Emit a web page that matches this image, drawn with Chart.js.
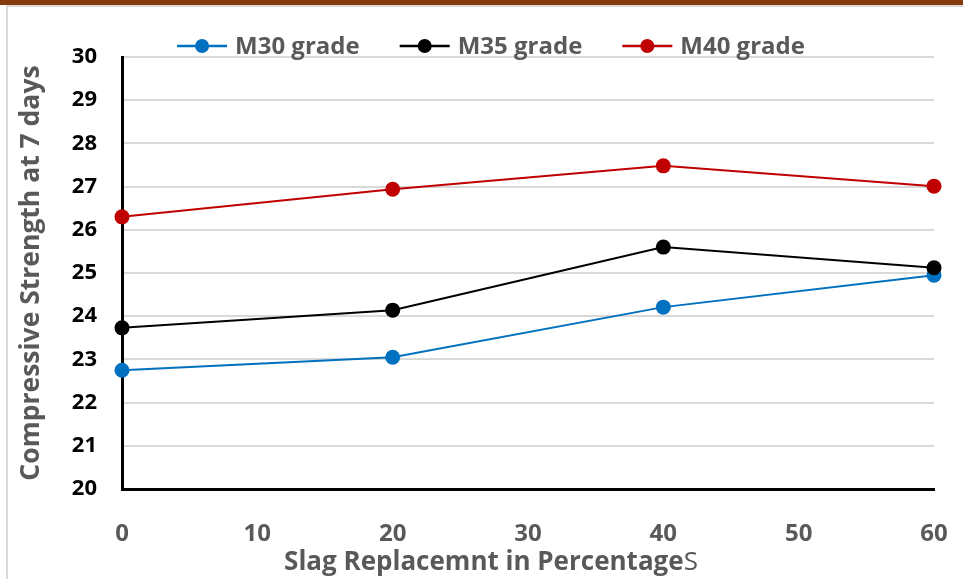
<!DOCTYPE html>
<html lang="en">
<head>
<meta charset="UTF-8">
<title>Compressive Strength at 7 days</title>
<script src="https://cdn.jsdelivr.net/npm/chart.js"></script>
<style>
    body { margin: 0; background: #ffffff; }
    .wrap { position: relative; width: 963px; height: 579px; overflow: hidden; background: #ffffff; }
    .topbar { position: absolute; left: 0; top: 0; width: 963px; height: 5px; background: #843c0c; }
    .frame { position: absolute; left: 6px; top: 5px; width: 1000px; height: 700px; border: 2px solid #d9d9d9; box-sizing: border-box; }
    canvas { position: absolute; left: 0; top: 0; }
</style>
</head>
<body>
<div class="wrap">
    <div class="topbar"></div>
    <div class="frame"></div>
    <canvas id="grafico" width="963" height="579"></canvas>
</div>
<script>
// datos
const slagPercent = [0, 20, 40, 60];
const m30 = [22.75, 23.05, 24.21, 24.95];
const m35 = [23.73, 24.14, 25.60, 25.12];
const m40 = [26.30, 26.94, 27.48, 27.01];
const seriesNames = ['M30 grade', 'M35 grade', 'M40 grade'];
const seriesColors = ['#0070c0', '#000000', '#c00000'];
const yMin = 20, yMax = 30, yStep = 1;
const xMin = 0, xMax = 60, xStep = 10;

const FONT = '"Open Sans", Lato, sans-serif';
const GRAY = '#595959';

function puntos(vals) {
    return slagPercent.map((x, i) => ({ x: x, y: vals[i] }));
}

// leyenda dibujada a mano (linea + punto + texto)
const leyenda = {
    id: 'leyenda',
    afterDraw(chart) {
        const ctx = chart.ctx;
        ctx.save();
        ctx.font = 'bold 24px ' + FONT;
        ctx.textBaseline = 'middle';
        const lineW = 50, gapText = 8, gapItem = 40, cy = 46;
        const items = chart.data.datasets.map(ds => ({ text: ds.label, color: ds.borderColor, w: ctx.measureText(ds.label).width }));
        let total = 0;
        items.forEach((it, i) => { total += lineW + gapText + it.w + (i ? gapItem : 0); });
        let x = 491 - total / 2;
        items.forEach(it => {
            ctx.strokeStyle = it.color;
            ctx.lineWidth = 2.5;
            ctx.beginPath();
            ctx.moveTo(x, cy);
            ctx.lineTo(x + lineW, cy);
            ctx.stroke();
            ctx.fillStyle = it.color;
            ctx.beginPath();
            ctx.arc(x + lineW / 2, cy, 7, 0, Math.PI * 2);
            ctx.fill();
            ctx.fillStyle = GRAY;
            ctx.fillText(it.text, x + lineW + gapText, cy + 1);
            x += lineW + gapText + it.w + gapItem;
        });
        ctx.restore();
    }
};

// titulo del eje x (la ultima S no va en negrita)
const tituloX = {
    id: 'tituloX',
    afterDraw(chart) {
        const ctx = chart.ctx;
        ctx.save();
        const a = 'Slag Replacemnt in Percentage', b = 'S';
        ctx.font = 'bold 26px ' + FONT;
        const wa = ctx.measureText(a).width;
        ctx.font = '26px ' + FONT;
        const wb = ctx.measureText(b).width;
        let x = 491 - (wa + wb) / 2;
        const y = 570;
        ctx.fillStyle = GRAY;
        ctx.textBaseline = 'alphabetic';
        ctx.font = 'bold 26px ' + FONT;
        ctx.fillText(a, x, y);
        ctx.font = '26px ' + FONT;
        ctx.fillText(b, x + wa, y);
        ctx.restore();
    }
};

const datasets = [m30, m35, m40].map((vals, i) => ({
    label: seriesNames[i],
    data: puntos(vals),
    borderColor: seriesColors[i],
    backgroundColor: seriesColors[i],
    borderWidth: 2,
    pointRadius: 7.5,
    pointHoverRadius: 7.5,
    pointBorderWidth: 0,
    tension: 0,
    clip: false,
    order: 2 - i
}));

new Chart(document.getElementById('grafico'), {
    type: 'line',
    data: { datasets: datasets },
    options: {
        responsive: false,
        animation: false,
        layout: { padding: { left: 0, right: 29, top: 57, bottom: 0 } },
        plugins: {
            legend: { display: false },
            tooltip: { enabled: false }
        },
        scales: {
            x: {
                type: 'linear',
                min: xMin,
                max: xMax,
                // el padding de las etiquetas no debe empujar el borde derecho
                afterFit: s => { s.height = 90; s.paddingRight = 15; s.paddingLeft = 15; },
                ticks: {
                    stepSize: xStep,
                    padding: 31,
                    color: GRAY,
                    font: { family: FONT, size: 24, weight: 'bold' }
                },
                grid: { display: false, drawTicks: false },
                border: { display: true, color: '#000000', width: 3 }
            },
            y: {
                min: yMin,
                max: yMax,
                afterFit: s => { s.width = 122; },
                ticks: {
                    stepSize: yStep,
                    padding: 25,
                    color: '#000000',
                    font: { family: FONT, size: 22, weight: 'bold' }
                },
                grid: { color: '#d9d9d9', lineWidth: 2, drawTicks: false },
                border: { display: true, color: '#000000', width: 3 },
                title: {
                    display: true,
                    text: 'Compressive Strength at 7 days',
                    color: GRAY,
                    padding: { top: 16, bottom: 0 },
                    font: { family: FONT, size: 26.5, weight: 'bold' }
                }
            }
        }
    },
    plugins: [leyenda, tituloX]
});
</script>
</body>
</html>
